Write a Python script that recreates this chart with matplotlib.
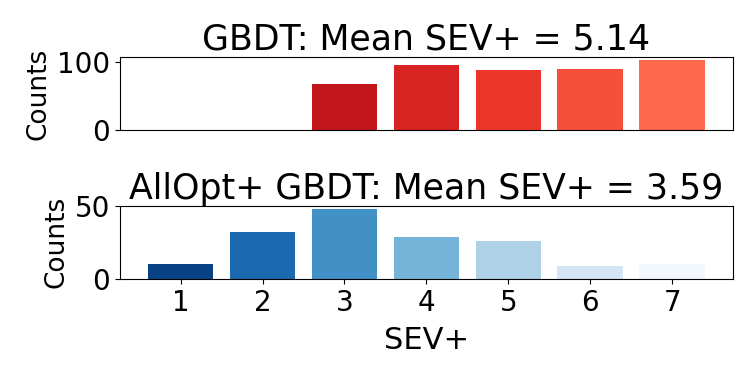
import numpy as np
import matplotlib
matplotlib.use("Agg")
import matplotlib.pyplot as plt

sev = [1, 2, 3, 4, 5, 6, 7]
gbdt_counts = [0, 0, 67, 96, 88, 89, 102]
allopt_counts = [10, 32, 48, 29, 26, 9, 10]
gbdt_title = "GBDT: Mean SEV+ = 5.14"
allopt_title = "AllOpt+ GBDT: Mean SEV+ = 3.59"

plt.rcParams['font.size'] = 20

fig, (ax1, ax2) = plt.subplots(2, 1, figsize=(7.5, 3.75), dpi=100)
fig.subplots_adjust(left=0.16, right=0.977, top=0.848, bottom=0.256, hspace=1.03)

reds = plt.cm.Reds(np.linspace(0.92, 0.5, 7))
blues = plt.cm.Blues(np.linspace(0.93, 0.02, 7))

ax1.bar(sev, gbdt_counts, color=reds)
ax1.set_title(gbdt_title, fontsize=25, pad=5)
ax1.set_ylabel("Counts", fontsize=19)
ax1.set_xticks([])

ax2.bar(sev, allopt_counts, color=blues)
ax2.set_title(allopt_title, fontsize=25, pad=5)
ax2.set_ylabel("Counts", fontsize=19)
ax2.set_xlabel("SEV+", fontsize=22, labelpad=7)
ax2.set_xticks(sev)

fig.savefig("out.png")
